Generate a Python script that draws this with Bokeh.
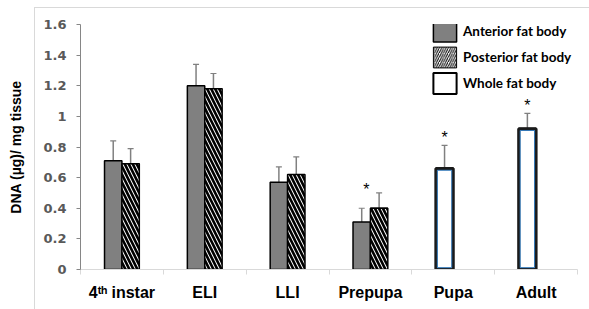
from bokeh.plotting import figure
from bokeh.models import (Range1d, FixedTicker, NumeralTickFormatter, ColumnDataSource,
                          Whisker, TeeHead, Legend, LegendItem)
from bokeh.embed import file_html
from bokeh.resources import INLINE
from bokeh.core.properties import value

# ---------------- data ----------------
stages = ["4ᵗʰ instar", "ELI", "LLI", "Prepupa", "Pupa", "Adult"]
anterior = [0.71, 1.20, 0.57, 0.31]
anterior_err = [0.13, 0.14, 0.10, 0.09]
posterior = [0.69, 1.18, 0.62, 0.40]
posterior_err = [0.10, 0.10, 0.115, 0.10]
whole_stages = ["Pupa", "Adult"]
whole = [0.66, 0.92]
whole_err = [0.15, 0.10]
star_stages = ["Prepupa", "Pupa", "Adult"]
star_y = [0.525, 0.86, 1.07]
y_ticks = [0, 0.2, 0.4, 0.6, 0.8, 1.0, 1.2, 1.4, 1.6]
series_names = ["Anterior fat body", "Posterior fat body", "Whole fat body"]

BW = 0.21
FONT = "Liberation Sans"

idx = {s: i for i, s in enumerate(stages)}
a_x = [idx[s] + 0.5 - BW / 2 for s in stages[:4]]
p_x = [idx[s] + 0.5 + BW / 2 for s in stages[:4]]
w_x = [idx[s] + 0.5 - BW / 2 for s in whole_stages]

src_a = ColumnDataSource(dict(x=a_x, top=anterior,
                              lo=[v - e for v, e in zip(anterior, anterior_err)],
                              hi=[v + e for v, e in zip(anterior, anterior_err)]))
src_p = ColumnDataSource(dict(x=p_x, top=posterior, lo=posterior,
                              hi=[v + e for v, e in zip(posterior, posterior_err)]))
src_w = ColumnDataSource(dict(x=w_x, top=whole, lo=whole,
                              hi=[v + e for v, e in zip(whole, whole_err)],
                              itop=[v - 0.012 for v in whole]))

p = figure(width=589, height=309, output_backend="svg", toolbar_location=None,
           x_range=Range1d(0, 6), y_range=Range1d(0, 1.6),
           min_border_left=80, min_border_right=12, min_border_top=24, min_border_bottom=40)
p.outline_line_color = None
p.xgrid.grid_line_color = None
p.ygrid.grid_line_color = None
p.background_fill_color = "white"
p.border_fill_color = None
# faint outer chart-area border (as in the spreadsheet export)
p.styles = {"background": "linear-gradient(#d9d9d9, #d9d9d9) 34px 7px / 1px 100% no-repeat, "
                          "linear-gradient(#d9d9d9, #d9d9d9) 34px 7px / 100% 1px no-repeat, white"}

# legend-only swatches: zero-height boxes hidden under the bar tops
lp = p.vbar(x="x", top="top", bottom="top", width=BW, source=src_p,
            fill_color="white", line_color="black", line_width=1,
            hatch_pattern="/", hatch_color="black", hatch_weight=1, hatch_scale=4.5)
lw = p.vbar(x="x", top="top", bottom="top", width=BW, source=src_w,
            fill_color="white", line_color="black", line_width=2)

# bars
ra = p.vbar(x="x", top="top", width=BW, bottom=0, source=src_a,
            fill_color="#808080", line_color="black", line_width=1.5)
rp = p.vbar(x="x", top="top", width=BW, bottom=0, source=src_p,
            fill_color="white", line_color="black", line_width=1.5,
            hatch_pattern="\\", hatch_color="black", hatch_weight=2.6, hatch_scale=8)
rw = p.vbar(x="x", top="top", width=BW, bottom=0, source=src_w,
            fill_color="white", line_color="#1a1a1a", line_width=3)
p.vbar(x="x", top="itop", width=BW - 0.036, bottom=0.012, source=src_w,
       fill_color=None, line_color="#2e75b6", line_width=1)

# error bars
ERR = "#808080"
p.add_layout(Whisker(source=src_a, base="x", lower="lo", upper="hi", line_color=ERR, line_width=1.5,
                     upper_head=TeeHead(size=6, line_color=ERR, line_width=1.2),
                     lower_head=TeeHead(size=6, line_color=ERR, line_width=1.2)))
for s in (src_p, src_w):
    p.add_layout(Whisker(source=s, base="x", lower="lo", upper="hi", line_color=ERR, line_width=1.5,
                         upper_head=TeeHead(size=6, line_color=ERR, line_width=1.2),
                         lower_head=None))

# significance stars
star_x = [idx[s] + 0.5 - (0.05 if s == "Prepupa" else BW / 2) for s in star_stages]
p.text(x=star_x, y=star_y, text=["*"] * len(star_x), text_align="center",
       text_baseline="middle", text_font=value(FONT), text_font_size="16px", text_color="black")

legend = Legend(items=[LegendItem(label=series_names[0], renderers=[ra]),
                       LegendItem(label=series_names[1], renderers=[lp]),
                       LegendItem(label=series_names[2], renderers=[lw])],
                location=(350, 173), padding=0, margin=0, spacing=-2,
                glyph_width=29, glyph_height=26, label_standoff=4,
                border_line_color=None, background_fill_alpha=0,
                label_text_font="Lato", label_text_font_style="bold",
                label_text_font_size="13.5px", label_text_color="black")
p.add_layout(legend, "center")

# y axis
ya = p.yaxis[0]
ya.ticker = FixedTicker(ticks=y_ticks)
ya.formatter = NumeralTickFormatter(format="0.[0]")
ya.axis_line_color = "#868686"
ya.major_tick_line_color = "#868686"
ya.major_tick_out = 4
ya.major_tick_in = 0
ya.minor_tick_line_color = None
ya.major_label_text_font = "DejaVu Sans"
ya.major_label_text_font_style = "bold"
ya.major_label_text_font_size = "13px"
ya.major_label_text_color = "#595959"
ya.major_label_standoff = 10
ya.axis_label = "DNA (µg)/ mg tissue"
ya.axis_label_text_font = FONT
ya.axis_label_text_font_style = "bold"
ya.axis_label_text_font_size = "14px"
ya.axis_label_text_color = "black"
ya.axis_label_standoff = 16

# x axis
xa = p.xaxis[0]
xa.ticker = FixedTicker(ticks=[i + 0.5 for i in range(len(stages))],
                        minor_ticks=list(range(len(stages) + 1)))
xa.major_label_overrides = {i + 0.5: s for i, s in enumerate(stages)}
xa.axis_line_color = "#d9d9d9"
xa.major_tick_line_color = None
xa.minor_tick_line_color = "#d9d9d9"
xa.minor_tick_out = 5
xa.minor_tick_in = 0
xa.major_tick_out = 0
xa.major_tick_in = 0
xa.major_label_text_font = FONT
xa.major_label_text_font_style = "bold"
xa.major_label_text_font_size = "16px"
xa.major_label_text_color = "black"
xa.major_label_standoff = 9

open("out.html", "w").write(file_html(p, INLINE))
